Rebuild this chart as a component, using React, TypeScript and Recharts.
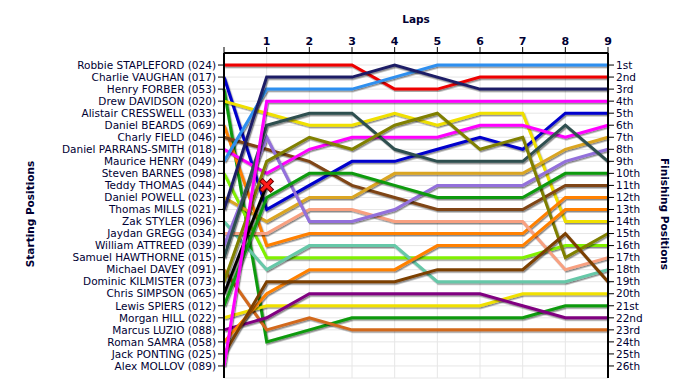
import React from 'react';
import { LineChart, Line, XAxis, YAxis, CartesianGrid } from 'recharts';

const laps = [0, 1, 2, 3, 4, 5, 6, 7, 8, 9];
const lapLabels = ['', '1', '2', '3', '4', '5', '6', '7', '8', '9'];
const gridPositions = [1, 2, 3, 4, 5, 6, 7, 8, 9, 10, 11, 12, 13, 14, 15, 16, 17, 18, 19, 20, 21, 22, 23, 24, 25, 26];

const startNames = [
  'Robbie STAPLEFORD (024)', 'Charlie VAUGHAN (017)', 'Henry FORBER (053)', 'Drew DAVIDSON (020)',
  'Alistair CRESSWELL (033)', 'Daniel BEARDS (069)', 'Charly FIELD (046)', 'Daniel PARRANS-SMITH (018)',
  'Maurice HENRY (049)', 'Steven BARNES (098)', 'Teddy THOMAS (044)', 'Daniel POWELL (023)',
  'Thomas MILLS (021)', 'Zak STYLER (096)', 'Jaydan GREGG (034)', 'William ATTREED (039)',
  'Samuel HAWTHORNE (015)', 'Michael DAVEY (091)', 'Dominic KILMISTER (073)', 'Chris SIMPSON (065)',
  'Lewis SPIERS (012)', 'Morgan HILL (022)', 'Marcus LUZIO (088)', 'Roman SAMRA (058)',
  'Jack PONTING (025)', 'Alex MOLLOV (089)',
];

const finishLabels = [
  '1st', '2nd', '3rd', '4th', '5th', '6th', '7th', '8th', '9th', '10th', '11th', '12th', '13th',
  '14th', '15th', '16th', '17th', '18th', '19th', '20th', '21st', '22nd', '23rd', '24th', '25th', '26th',
];

// position of each driver at the end of each lap (lap 0 = grid)
const stapleford = [1, 1, 1, 1, 3, 3, 2, 2, 2, 2];
const vaughan = [2, 13, 11, 9, 9, 8, 7, 8, 5, 5];
const forber = [3, 24, 23, 22, 22, 22, 22, 22, 21, 21];
const davidson = [4, 5, 6, 6, 5, 6, 5, 5, 14, 14];
const beards = [6, 16, 15, 15, 15, 15, 15, 15, 12, 12];
const field = [7, 8, 9, 11, 12, 13, 13, 13, 11, 11];
const parransSmith = [8, 10, 8, 7, 7, 7, 6, 6, 7, 6];
const henry = [9, 3, 3, 3, 2, 1, 1, 1, 1, 1];
const barnes = [10, 17, 17, 17, 17, 17, 17, 17, 16, 16];
const powell = [12, 14, 12, 12, 10, 10, 10, 10, 8, 7];
const mills = [13, 2, 2, 2, 1, 2, 3, 3, 3, 3];
const styler = [14, 18, 16, 16, 16, 19, 19, 19, 19, 18];
const gregg = [15, 15, 13, 13, 14, 14, 14, 14, 18, 17];
const attreed = [16, 7, 14, 14, 13, 11, 11, 11, 9, 8];
const hawthorne = [17, 6, 5, 5, 8, 9, 9, 9, 6, 9];
const davey = [18, 23, 22, 23, 23, 23, 23, 23, 23, 23];
const kilmister = [19, 9, 7, 8, 6, 5, 8, 7, 17, 15];
const simpson = [20, 11];
const spiers = [21, 12, 10, 10, 11, 12, 12, 12, 10, 10];
const hill = [22, 21, 21, 21, 21, 21, 21, 20, 20, 20];
const luzio = [23, 22, 20, 20, 20, 20, 20, 21, 22, 22];
const samra = [24, 20, 18, 18, 18, 16, 16, 16, 13, 13];
const ponting = [25, 19, 19, 19, 19, 18, 18, 18, 15, 19];
const mollov = [26, 4, 4, 4, 4, 4, 4, 4, 4, 4];

const series = [
  { key: 'stapleford', color: '#ee0000', pos: stapleford },
  { key: 'vaughan', color: '#0000cc', pos: vaughan },
  { key: 'forber', color: '#0a9a0a', pos: forber },
  { key: 'davidson', color: '#f0e000', pos: davidson },
  { key: 'beards', color: '#ff8000', pos: beards },
  { key: 'field', color: '#7f4514', pos: field },
  { key: 'parransSmith', color: '#ff00ff', pos: parransSmith },
  { key: 'henry', color: '#2f8fef', pos: henry },
  { key: 'barnes', color: '#80f000', pos: barnes },
  { key: 'powell', color: '#daa520', pos: powell },
  { key: 'mills', color: '#1f1f66', pos: mills },
  { key: 'styler', color: '#66c8a8', pos: styler },
  { key: 'gregg', color: '#f8a080', pos: gregg },
  { key: 'attreed', color: '#9370db', pos: attreed },
  { key: 'hawthorne', color: '#2f4f4f', pos: hawthorne },
  { key: 'davey', color: '#d2691e', pos: davey },
  { key: 'kilmister', color: '#808000', pos: kilmister },
  { key: 'simpson', color: '#000000', pos: simpson },
  { key: 'spiers', color: '#0a9a0a', pos: spiers },
  { key: 'hill', color: '#f0e000', pos: hill },
  { key: 'luzio', color: '#800080', pos: luzio },
  { key: 'samra', color: '#ff8000', pos: samra },
  { key: 'ponting', color: '#7b3f00', pos: ponting },
  { key: 'mollov', color: '#ff00ff', pos: mollov },
];

const crashKey = 'simpson';
const crashLap = 1;

const data = laps.map((lap, i) => {
  const row: Record<string, number | null> = { lap };
  series.forEach((s) => {
    row[s.key] = i < s.pos.length ? s.pos[i] : null;
  });
  return row;
});

const textColor = '#000033';
const font = 'DejaVu Sans, Verdana, sans-serif';

const CrashDot = (props: any) => {
  const { cx, cy, index } = props;
  if (index !== crashLap || cx == null || cy == null) return <g key={`d${index}`} />;
  const s = 4;
  const d = `M${cx - s},${cy - s}L${cx + s},${cy + s}M${cx + s},${cy - s}L${cx - s},${cy + s}`;
  return (
    <g key={`d${index}`}>
      <path d={d} stroke="#6a0000" strokeWidth={5} strokeLinecap="square" fill="none" />
      <path d={d} stroke="#ff1a1a" strokeWidth={3} strokeLinecap="square" fill="none" />
    </g>
  );
};

export default function App() {
  return (
    <div style={{ position: 'absolute', left: 0, top: 0, width: 700, height: 390, background: '#fff' }}>
      <LineChart
        width={700}
        height={390}
        data={data}
        margin={{ top: 0, right: 0, bottom: 12, left: 0 }}
      >
        <defs>
          <filter id="lineShadow" x="-10%" y="-10%" width="120%" height="120%">
            <feDropShadow dx="1.2" dy="1.5" stdDeviation="0.5" floodColor="#000" floodOpacity="0.45" />
          </filter>
        </defs>
        <CartesianGrid yAxisId="left" stroke="#e6e6e6" strokeWidth={1} />
        <XAxis
          dataKey="lap"
          type="number"
          orientation="top"
          domain={[0, 9]}
          ticks={laps}
          interval={0}
          height={53}
          tickFormatter={(v: number) => lapLabels[v]}
          axisLine={{ stroke: '#000', strokeWidth: 2 }}
          tickLine={{ stroke: '#000' }}
          tickSize={6}
          tick={{ fill: textColor, fontSize: 11, fontFamily: font, fontWeight: 'bold' }}
        />
        <YAxis
          yAxisId="left"
          orientation="left"
          type="number"
          domain={[0, 27]}
          reversed
          ticks={gridPositions}
          interval={0}
          width={224}
          tickFormatter={(v: number) => startNames[v - 1]}
          axisLine={{ stroke: '#000', strokeWidth: 2 }}
          tickLine={{ stroke: '#000' }}
          tickSize={6}
          tick={{ fill: textColor, fontSize: 10.5, fontFamily: font }}
        />
        <YAxis
          yAxisId="right"
          orientation="right"
          type="number"
          domain={[0, 27]}
          reversed
          ticks={gridPositions}
          interval={0}
          width={92}
          tickFormatter={(v: number) => finishLabels[v - 1]}
          axisLine={{ stroke: '#000', strokeWidth: 2 }}
          tickLine={{ stroke: '#000' }}
          tickSize={6}
          tick={{ fill: textColor, fontSize: 10.5, fontFamily: font }}
        />
        {series.map((s, i) => (
          <Line
            key={s.key}
            yAxisId={i % 2 === 0 ? 'left' : 'right'}
            dataKey={s.key}
            type="linear"
            stroke={s.color}
            strokeWidth={3}
            filter="url(#lineShadow)"
            dot={s.key === crashKey ? CrashDot : false}
            activeDot={false}
            connectNulls={false}
            isAnimationActive={false}
          />
        ))}
      </LineChart>
      <svg
        width={700}
        height={390}
        style={{ position: 'absolute', left: 0, top: 0, pointerEvents: 'none' }}
      >
        <text x={416} y={23} textAnchor="middle" fontFamily={font} fontSize={10.5} fontWeight="bold" fill={textColor}>
          Laps
        </text>
        <text
          x={0}
          y={0}
          transform="translate(34,214) rotate(-90)"
          textAnchor="middle"
          fontFamily={font}
          fontSize={10.5}
          fontWeight="bold"
          fill={textColor}
        >
          Starting Positions
        </text>
        <text
          x={0}
          y={0}
          transform="translate(661,214) rotate(90)"
          textAnchor="middle"
          fontFamily={font}
          fontSize={10.5}
          fontWeight="bold"
          fill={textColor}
        >
          Finishing Positions
        </text>
      </svg>
    </div>
  );
}
